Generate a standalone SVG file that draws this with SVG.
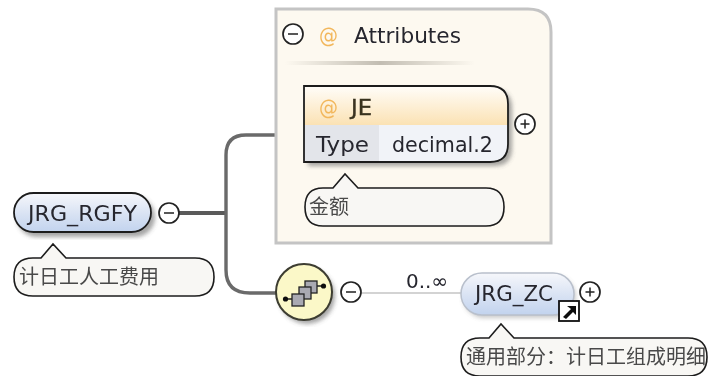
<svg xmlns="http://www.w3.org/2000/svg" width="708" height="376" viewBox="0 0 708 376">
<defs>
<linearGradient id="blue" x1="0" y1="0" x2="0" y2="1"><stop offset="0" stop-color="#f6f7fb"/><stop offset="0.55" stop-color="#d8e2f3"/><stop offset="1" stop-color="#c2d3ee"/></linearGradient>
<linearGradient id="orange" x1="0" y1="0" x2="0" y2="1"><stop offset="0" stop-color="#fffdf9"/><stop offset="1" stop-color="#fbe2b4"/></linearGradient>
<linearGradient id="rule" x1="0" y1="0" x2="1" y2="0"><stop offset="0" stop-color="#fdf9f0"/><stop offset="0.5" stop-color="#c2bdb2"/><stop offset="1" stop-color="#fdf9f0"/></linearGradient>
<filter id="sh" x="-15%" y="-15%" width="130%" height="135%"><feGaussianBlur stdDeviation="2.2"/></filter>
<filter id="soft" x="-5%" y="-5%" width="110%" height="110%"><feGaussianBlur stdDeviation="0.55"/></filter>
</defs>
<style>
text{font-family:"DejaVu Sans","Noto Sans CJK SC",sans-serif;fill:#26262e}
.t{font-size:21px}
.c{font-size:20px;fill:#4a4a4a;font-family:"Noto Sans CJK SC","DejaVu Sans",sans-serif}
.cm{fill:#f8f7f4;stroke:#1d1d1d;stroke-width:1.6}
.b{fill:#fff;stroke:#222;stroke-width:1.7}
.s{stroke:#222;stroke-width:1.5;fill:none}
.sh{fill:#6a6a6a;opacity:.6;filter:url(#sh)}
</style>
<rect width="708" height="376" fill="#fff"/>
<g id="connectors" fill="none" filter="url(#soft)">
<path d="M178 213H226" stroke="#5a5a5a" stroke-width="4"/>
<path d="M275 135H246Q226 135 226 155V270Q226 293 250 293H276" stroke="#6a6a6a" stroke-width="3.4"/>
<path d="M361 293H462" stroke="#c4c4c4" stroke-width="1.6"/>
</g>
<g id="attributes" filter="url(#soft)">
<path d="M276 9H528Q551 9 551 32V243H276Z" fill="#fdf9f0" stroke="#c4c4c4" stroke-width="3"/>
<circle class="b" cx="293" cy="34" r="10"/><path class="s" d="M288 34h10"/>
<text x="319" y="43" font-size="21" textLength="19" lengthAdjust="spacingAndGlyphs" style="fill:#f2b75c">@</text>
<text x="354" y="43" font-size="21" textLength="107" lengthAdjust="spacingAndGlyphs">Attributes</text>
<rect x="285" y="61" width="190" height="4" fill="url(#rule)"/>
</g>
<g id="JE" filter="url(#soft)">
<path class="sh" d="M308 90H494Q512 90 512 108V148Q512 166 494 166H308Z"/>
<path d="M304 86H490Q508 86 508 104V125H304Z" fill="url(#orange)"/>
<path d="M304 125H379V162H304Z" fill="#e3e5ea"/>
<path d="M379 125H508V144Q508 162 490 162H379Z" fill="#f1f3f8"/>
<path d="M304 86H490Q508 86 508 104V144Q508 162 490 162H304Z" fill="none" stroke="#1d1d1d" stroke-width="1.8"/>
<text x="319" y="115" font-size="21" textLength="19" lengthAdjust="spacingAndGlyphs" style="fill:#f2b75c">@</text>
<text x="351" y="115" font-size="21" style="fill:#3a3320" stroke="#3a3320" stroke-width=".4" textLength="21" lengthAdjust="spacingAndGlyphs">JE</text>
<text class="t" x="316" y="152" textLength="53" lengthAdjust="spacingAndGlyphs">Type</text>
<text class="t" x="392" y="152" textLength="101" lengthAdjust="spacingAndGlyphs">decimal.2</text>
<circle class="b" cx="525" cy="124" r="10"/><path class="s" d="M520.500 124h9M525 119.500v9"/>
</g>
<g id="JE-note" filter="url(#soft)">
<path class="cm" d="M323 188H333L345 174L358 188H486Q504 188 504 207Q504 226 486 226H323Q305 226 305 207Q305 188 323 188Z"/>
<text class="c" x="309" y="214">金额</text>
</g>
<g id="JRG_RGFY" filter="url(#soft)">
<rect class="sh" x="17" y="197" width="138" height="40" rx="20"/>
<rect x="14" y="193" width="137" height="39" rx="19.500" fill="url(#blue)" stroke="#1d1d1d" stroke-width="1.8"/>
<text class="t" x="28" y="221" textLength="109" lengthAdjust="spacingAndGlyphs">JRG_RGFY</text>
<circle class="b" cx="169" cy="213" r="10"/><path class="s" d="M164 213h10"/>
</g>
<g id="JRG_RGFY-note" filter="url(#soft)">
<path class="cm" d="M33 258H41L53 244L66 258H195Q214 258 214 277Q214 296 195 296H33Q14 296 14 277Q14 258 33 258Z"/>
<text class="c" x="19" y="284">计日工人工费用</text>
</g>
<g id="sequence" filter="url(#soft)">
<circle class="sh" cx="307" cy="296" r="28"/>
<circle cx="304" cy="292" r="28" fill="#fbf8c8" stroke="#3c3c30" stroke-width="2"/>
<path class="s" d="M286 299h8M322 286h-8"/>
<circle cx="285.500" cy="299" r="2.600" fill="#111"/><circle cx="323.500" cy="286" r="2.600" fill="#111"/>
<g fill="#a9a9b2" stroke="#222" stroke-width="1.300"><rect x="305" y="281" width="12" height="12"/><rect x="299" y="287" width="12" height="12"/><rect x="292" y="294" width="12" height="12"/></g>
<circle class="b" cx="351" cy="292" r="10"/><path class="s" d="M346 292h10"/>
</g>
<text x="406" y="288" font-size="20" textLength="42" lengthAdjust="spacingAndGlyphs" filter="url(#soft)">0..∞</text>
<g id="JRG_ZC" filter="url(#soft)">
<rect x="463" y="276" width="113" height="42" rx="21" fill="#8a8a8a" opacity=".45" filter="url(#sh)"/>
<rect x="461" y="273" width="113" height="42" rx="21" fill="url(#blue)" stroke="#b9c0cc" stroke-width="1.500"/>
<text class="t" x="475" y="301" textLength="78" lengthAdjust="spacingAndGlyphs">JRG_ZC</text>
<rect x="559" y="301" width="20" height="20" fill="#fff" stroke="#111" stroke-width="1.800"/>
<path d="M563 317L571 309L567 306H576V315L573 312L566 319Z" fill="#111"/>
<circle class="b" cx="590" cy="292" r="10"/><path class="s" d="M585.500 292h9M590 287.500v9"/>
</g>
<g id="JRG_ZC-note" filter="url(#soft)">
<path class="cm" d="M480 338H489L501 324L514 338H688Q707 338 707 357Q707 376 688 376H480Q461 376 461 357Q461 338 480 338Z"/>
<text class="c" x="466" y="364">通用部分：计日工组成明细</text>
</g>
</svg>
